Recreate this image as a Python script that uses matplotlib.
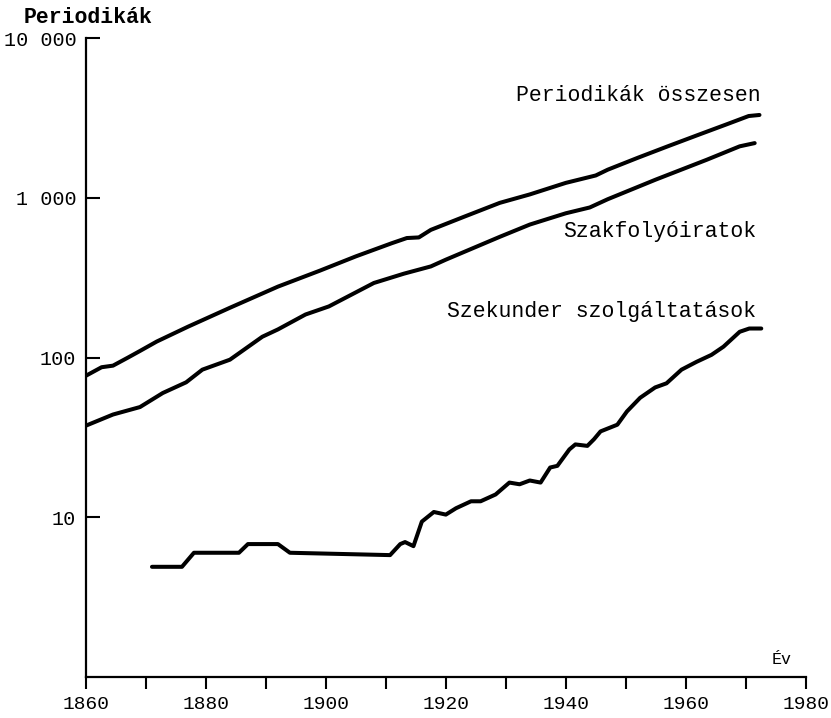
import matplotlib
matplotlib.use("Agg")
import matplotlib.pyplot as plt

# Periodikák összesen
years_total = [1860, 1862.6, 1864.5, 1867, 1869, 1871.8, 1877, 1884, 1892, 1899, 1905, 1911,
               1913.5, 1915.5, 1917.5, 1923, 1929, 1934, 1940, 1945, 1947, 1952, 1957, 1962,
               1967, 1970.5, 1972.3]
vals_total = [77, 87, 89, 100, 110, 126, 156, 205, 278, 350, 430, 520,
              560, 565, 630, 760, 930, 1050, 1240, 1380, 1500, 1780, 2100, 2470,
              2900, 3250, 3300]

# Szakfolyóiratok
years_journ = [1860, 1864.5, 1869, 1872.8, 1876.7, 1879.4, 1884, 1889.4, 1892, 1896.6, 1900.5,
               1908, 1913, 1917.5, 1920, 1929, 1934, 1940, 1944, 1947, 1955, 1963.5, 1969,
               1971.5]
vals_journ = [37.5, 44, 49, 60, 70, 84, 97, 135, 150, 186, 209,
              293, 335, 372, 410, 570, 680, 800, 870, 980, 1300, 1730, 2100,
              2200]

# Szekunder szolgáltatások
years_sec = [1871, 1876, 1878, 1885.5, 1887, 1892, 1894, 1910.7, 1912.4, 1913.2, 1914.6,
             1916, 1918, 1920, 1921.7, 1924.2, 1925.8, 1928.3, 1930.6, 1932.3, 1934, 1935.8,
             1937.4, 1938.6, 1940.6, 1941.6, 1943.6, 1944.7, 1945.8, 1948.6, 1950.2, 1952.4,
             1954.9, 1956.8, 1959.3, 1961.8, 1964.3, 1966.3, 1969, 1970.6, 1972.6]
vals_sec = [4.9, 4.9, 6.0, 6.0, 6.8, 6.8, 6.0, 5.8, 6.8, 7.0, 6.6,
            9.4, 10.8, 10.4, 11.4, 12.6, 12.6, 13.9, 16.5, 16.1, 17, 16.5,
            20.5, 21, 26.6, 28.6, 28, 30.8, 34.5, 38, 46, 56,
            65, 69, 84, 94, 104, 117, 145, 152, 152]

xticks = [1860, 1880, 1900, 1920, 1940, 1960, 1980]
xminor = [1870, 1890, 1910, 1930, 1950, 1970]
yticks = [10, 100, 1000, 10000]
ylabels = ["10", "100", "1 000", "10 000"]

mono = "Liberation Mono"

fig = plt.figure(figsize=(8.31, 7.18), dpi=100)
ax = fig.add_axes([0.1035, 0.057, 0.866, 0.890])

line_kw = dict(color="black", lw=2.9, solid_capstyle="round", solid_joinstyle="round")
ax.plot(years_total, vals_total, **line_kw)
ax.plot(years_journ, vals_journ, **line_kw)
ax.plot(years_sec, vals_sec, **line_kw)

ax.set_yscale("log")
ax.set_xlim(1860, 1980)
ax.set_ylim(1, 10000)

ax.set_yticks(yticks)
ax.set_yticklabels(ylabels, family=mono, fontsize=14.5)
ax.yaxis.set_minor_locator(matplotlib.ticker.NullLocator())
ax.set_xticks(xticks)
ax.set_xticklabels([str(x) for x in xticks], family=mono, fontsize=14)
ax.set_xticks(xminor, minor=True)

ax.tick_params(axis="y", direction="in", length=10, width=1.5, pad=7)
ax.tick_params(axis="x", which="both", direction="out", length=8.5, width=1.5, pad=5)

for s in ["top", "right"]:
    ax.spines[s].set_visible(False)
for s in ["left", "bottom"]:
    ax.spines[s].set_linewidth(1.6)

ax.text(1972.5, 4360, "Periodikák összesen", family=mono, fontsize=15.5,
        ha="right", va="center")
ax.text(1971.8, 615, "Szakfolyóiratok", family=mono, fontsize=15.5,
        ha="right", va="center")
ax.text(1971.8, 194, "Szekunder szolgáltatások", family=mono, fontsize=15.5,
        ha="right", va="center")
ax.text(1976, 1.28, "Év", family=mono, fontsize=12, ha="center", va="center")

fig.text(0.028, 0.968, "Periodikák", family=mono, fontsize=15.5, fontweight="bold",
         ha="left", va="baseline")

fig.savefig("out.png", dpi=100, facecolor="white")
